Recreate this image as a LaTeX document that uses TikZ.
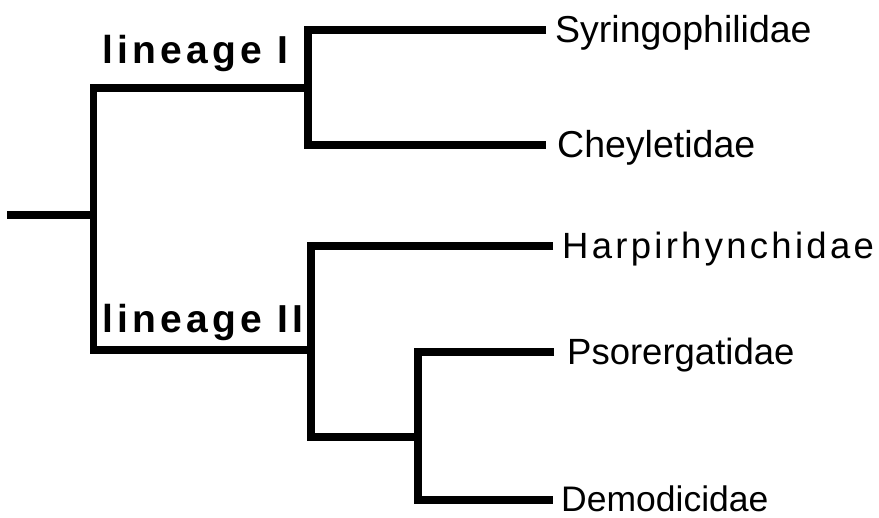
\documentclass[tikz,border=0pt]{standalone}
\usepackage{fontspec}
\setmainfont{Liberation Sans}
\newfontfamily\harfont[LetterSpace=9]{Liberation Sans}
\newfontfamily\linfont[LetterSpace=11]{Liberation Sans}
\begin{document}
\begin{tikzpicture}[x=1pt,y=-1pt,
  branch/.style={line width=7.5pt, line join=miter, line cap=butt},
  leaf/.style={anchor=base west, inner sep=0pt, font=\fontsize{37.5}{40}\selectfont},
  lin/.style={anchor=base west, inner sep=0pt, font=\linfont\bfseries\fontsize{39}{42}\selectfont}]
\useasboundingbox (0,0) rectangle (879,518);
% internal nodes
\coordinate (root) at (7,215);
\coordinate (r) at (93.5,215);
\coordinate (a) at (308,88);
\coordinate (b) at (311,350);
\coordinate (c) at (418,437);
% leaf line ends
\coordinate (syrE) at (546,30);
\coordinate (cheE) at (546,145);
\coordinate (harE) at (553,246);
\coordinate (psoE) at (554,352);
\coordinate (demE) at (553,500);
% leaves
\node[leaf] (syr) at (555,43) {Syringophilidae};
\node[leaf] (che) at (557,158) {Cheyletidae};
\node[leaf, font=\harfont\fontsize{36.5}{40}\selectfont] (har) at (562,259) {Harpirhynchidae};
\node[leaf, font=\fontsize{36.5}{40}\selectfont] (pso) at (567,365) {Psorergatidae};
\node[leaf, font=\fontsize{35.5}{40}\selectfont, text depth=0pt] (dem) at (561,512) {Demodicidae};
% lineage labels
\node[lin] (l1) at (102,64) {lineage I};
\node[lin] (l2) at (102,333) {lineage II};
% tree
\draw[branch] (root) -- (r);
\draw[branch] (a) -| (r) |- (b);
\draw[branch] (syrE) -| (a) |- (cheE);
\draw[branch] (harE) -| (b) |- (c);
\draw[branch] (psoE) -| (c) |- (demE);
\end{tikzpicture}
\end{document}
